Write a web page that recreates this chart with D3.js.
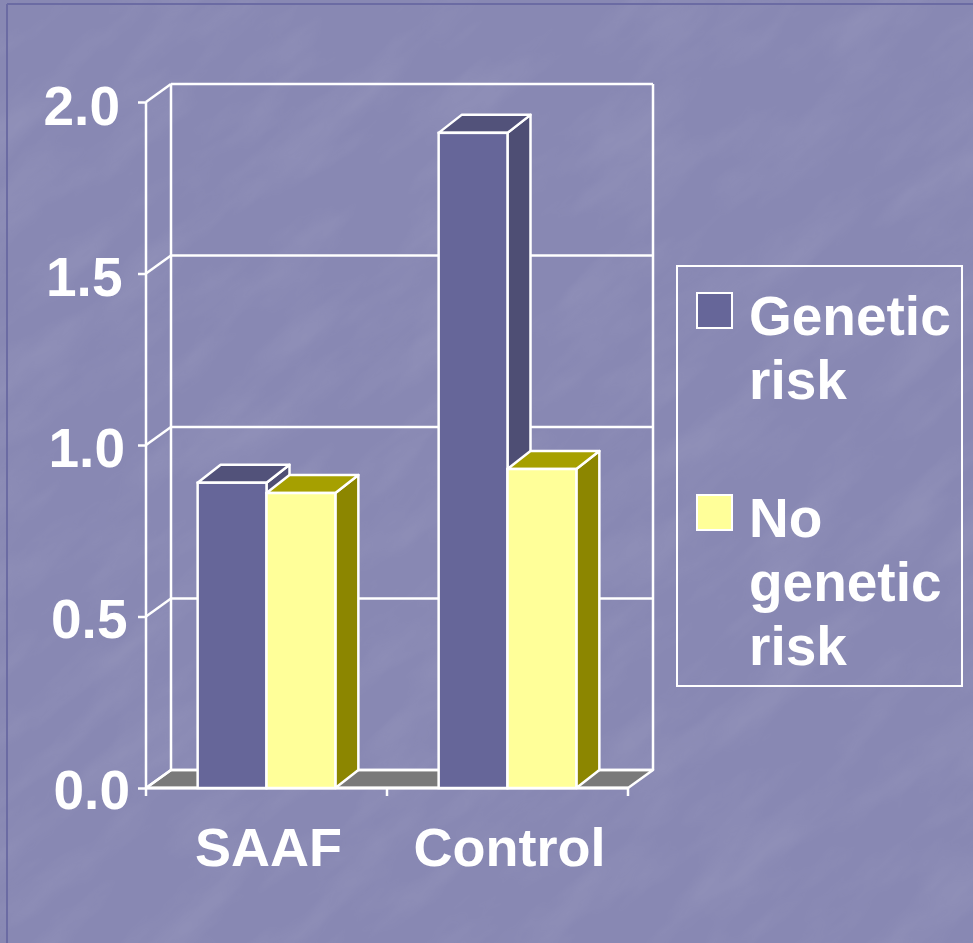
<!DOCTYPE html>
<html>
<head>
<meta charset="utf-8">
<script src="https://cdn.jsdelivr.net/npm/d3@7"></script>
<style>
  html, body { margin: 0; padding: 0; background: #8a8ab5; }
  svg { display: block; }
  text { font-family: "Liberation Sans", Arial, sans-serif; font-weight: bold; fill: #ffffff; }
</style>
</head>
<body>
<script>
// Chart data
const categories = ["SAAF", "Control"];
const seriesNames = ["Genetic risk", "No genetic risk"];
const geneticRisk = [0.89, 1.91];
const noGeneticRisk = [0.86, 0.93];
const tickValues = [0, 0.5, 1.0, 1.5, 2.0];
const legendLines = [["Genetic", "risk"], ["No", "genetic", "risk"]];

const W = 973, H = 943;
const svg = d3.select("body").append("svg").attr("width", W).attr("height", H);

// background with a soft mottled texture
const defs = svg.append("defs");
const f = defs.append("filter").attr("id", "paper").attr("x", 0).attr("y", 0).attr("width", "100%").attr("height", "100%");
f.append("feTurbulence").attr("type", "fractalNoise").attr("baseFrequency", "0.008 0.025").attr("numOctaves", 4).attr("seed", 11).attr("result", "n");
f.append("feColorMatrix").attr("in", "n").attr("type", "matrix")
  .attr("values", "0 0 0 0 1  0 0 0 0 1  0 0 0 0 1  0 0 0 1.0 -0.42");
svg.append("rect").attr("width", W).attr("height", H).attr("fill", "#8888b3");
svg.append("g").attr("transform", "rotate(-40 486 471)")
  .append("rect").attr("x", -300).attr("y", -300).attr("width", W + 600).attr("height", H + 600)
  .attr("filter", "url(#paper)").attr("opacity", 0.14);

// slide frame lines
svg.append("line").attr("x1", 7).attr("x2", 7).attr("y1", 4).attr("y2", H).attr("stroke", "#6b6ba3").attr("stroke-width", 2);
svg.append("line").attr("x1", 7).attr("x2", W).attr("y1", 4).attr("y2", 4).attr("stroke", "#6b6ba3").attr("stroke-width", 2);

// 3D geometry
const depthX = 25, depthY = -18;      // wall depth
const barDX = 23, barDY = -18;        // bar depth
const x0 = 146, x1 = 628;
const y = d3.scaleLinear().domain([0, 2]).range([788, 102]);
const xCat = d3.scaleBand().domain(categories).range([x0, x1]).padding(0);
const xSer = d3.scaleBand().domain(seriesNames).range([0, xCat.bandwidth()]).paddingInner(0).paddingOuter(0.75);

const white = "#ffffff";
const sw = 2.5;
const g = svg.append("g");

// floor
const floorPts = [[x0, y(0)], [x1, y(0)], [x1 + depthX, y(0) + depthY], [x0 + depthX, y(0) + depthY]];
g.append("polygon").attr("points", floorPts.map(p => p.join(",")).join(" "))
  .attr("fill", "#7a7a7a").attr("stroke", white).attr("stroke-width", sw).attr("stroke-linejoin", "round");

// back wall gridlines + outline
tickValues.forEach(v => {
  g.append("line").attr("x1", x0 + depthX).attr("x2", x1 + depthX)
    .attr("y1", y(v) + depthY).attr("y2", y(v) + depthY)
    .attr("stroke", white).attr("stroke-width", sw);
  // side wall diagonal
  g.append("line").attr("x1", x0).attr("y1", y(v)).attr("x2", x0 + depthX).attr("y2", y(v) + depthY)
    .attr("stroke", white).attr("stroke-width", sw);
});
g.append("line").attr("x1", x0 + depthX).attr("x2", x0 + depthX).attr("y1", y(2) + depthY).attr("y2", y(0) + depthY)
  .attr("stroke", white).attr("stroke-width", sw);
g.append("line").attr("x1", x1 + depthX).attr("x2", x1 + depthX).attr("y1", y(2) + depthY).attr("y2", y(0) + depthY)
  .attr("stroke", white).attr("stroke-width", sw);

// front value axis
const yAxis = d3.axisLeft(y).tickValues(tickValues).tickSize(8).tickFormat("");
const ya = g.append("g").attr("transform", `translate(${x0},0)`).call(yAxis);
ya.selectAll("path,line").attr("stroke", white).attr("stroke-width", sw);
ya.select(".domain").attr("d", `M0,${y(2)}V${y(0)}`);

tickValues.forEach(v => {
  g.append("text").attr("x", 130 - 5 * v).attr("y", y(v) + 21 + 1.2 * v)
    .attr("text-anchor", "end").attr("font-size", 55).text(d3.format(".1f")(v));
});

// front category axis
const xa = g.append("g").attr("transform", `translate(0,${y(0)})`);
xa.append("line").attr("x1", x0).attr("x2", x1).attr("stroke", white).attr("stroke-width", 3);
[x0, ...categories.slice(1).map(c => xCat(c)), x1].forEach(px => {
  xa.append("line").attr("x1", px).attr("x2", px).attr("y1", 0).attr("y2", 8).attr("stroke", white).attr("stroke-width", sw);
});
categories.forEach(c => {
  g.append("text").attr("x", xCat(c) + xCat.bandwidth() / 2 + 2).attr("y", 866)
    .attr("text-anchor", "middle").attr("font-size", 54).text(c);
});

// bars
const palette = [
  { front: "#666699", top: "#52527a", side: "#4e4e74" },
  { front: "#ffff99", top: "#a6a000", side: "#8c8600" }
];
const barData = [];
categories.forEach((c, i) => {
  [geneticRisk[i], noGeneticRisk[i]].forEach((v, s) => {
    barData.push({ cat: c, s, v });
  });
});
barData.forEach(d => {
  const bx = xCat(d.cat) + xSer(seriesNames[d.s]);
  const bw = xSer.bandwidth();
  const yt = y(d.v), yb = y(0);
  const col = palette[d.s];
  const bar = g.append("g");
  bar.append("polygon")
    .attr("points", [[bx + bw, yb], [bx + bw + barDX, yb + barDY], [bx + bw + barDX, yt + barDY], [bx + bw, yt]].map(p => p.join(",")).join(" "))
    .attr("fill", col.side).attr("stroke", white).attr("stroke-width", sw).attr("stroke-linejoin", "round");
  bar.append("polygon")
    .attr("points", [[bx, yt], [bx + barDX, yt + barDY], [bx + bw + barDX, yt + barDY], [bx + bw, yt]].map(p => p.join(",")).join(" "))
    .attr("fill", col.top).attr("stroke", white).attr("stroke-width", sw).attr("stroke-linejoin", "round");
  bar.append("rect").attr("x", bx).attr("y", yt).attr("width", bw).attr("height", yb - yt)
    .attr("fill", col.front).attr("stroke", white).attr("stroke-width", sw);
});

// legend
const leg = svg.append("g");
leg.append("rect").attr("x", 677).attr("y", 266).attr("width", 285).attr("height", 420)
  .attr("fill", "none").attr("stroke", white).attr("stroke-width", 2);
const legendTop = [335, 537];
seriesNames.forEach((name, i) => {
  leg.append("rect").attr("x", 697).attr("y", legendTop[i] - 42).attr("width", 35).attr("height", 35)
    .attr("fill", palette[i].front).attr("stroke", white).attr("stroke-width", 2);
  const t = leg.append("text").attr("x", 749).attr("y", legendTop[i]).attr("font-size", 55);
  legendLines[i].forEach((ln, k) => {
    t.append("tspan").attr("x", 749).attr("dy", k === 0 ? 0 : 64).text(ln);
  });
});
</script>
</body>
</html>
